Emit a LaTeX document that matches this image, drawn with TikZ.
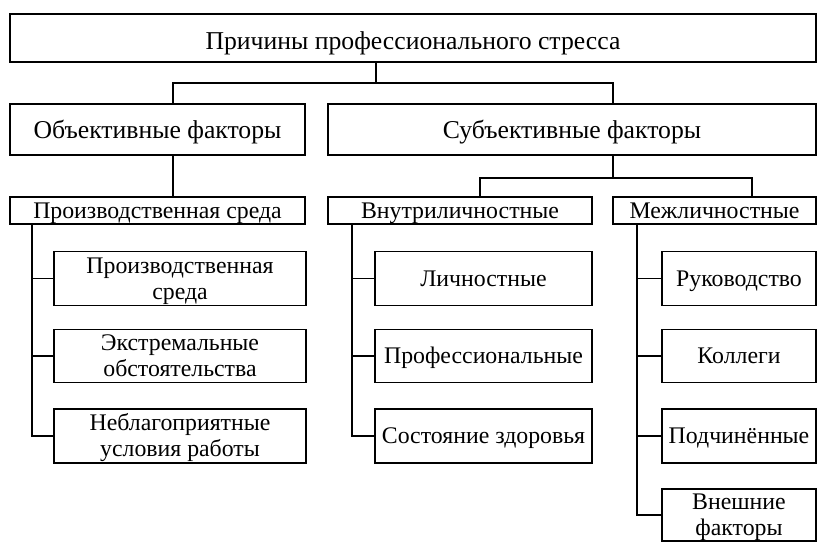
\documentclass[tikz,border=0pt]{standalone}
\usepackage{fontspec}
\setmainfont{Liberation Serif}
\newcommand\capline[1]{\rule{0pt}{0.66em}\smash{#1}}
\newcommand\lastline[1]{\smash{#1}}
\begin{document}
\begin{tikzpicture}[x=1pt,y=-1pt,
  box/.style={draw,line width=1.4pt,inner sep=0pt,align=center,font=\fontsize{23.8}{26}\selectfont},
  big/.style={font=\fontsize{25.7}{28}\selectfont},
  one/.style={text height=15.7pt,text depth=0pt},
  bigone/.style={text height=17pt,text depth=0pt},
  conn/.style={line width=1.4pt}]
\useasboundingbox (0,0) rectangle (827,552);
\node[box,big,text height=23pt,text depth=0pt,minimum width=806pt,minimum height=48pt] (top) at (413,38) {Причины профессионального стресса};
\node[box,big,bigone,minimum width=295pt,minimum height=51pt] (obj) at (157.5,129.5) {Объективные факторы};
\node[box,big,bigone,minimum width=488pt,minimum height=51pt] (subj) at (572,129.5) {Субъективные факторы};
\node[box,one,minimum width=295pt,minimum height=27pt] (prod) at (157.5,210.5) {Производственная среда};
\node[box,one,minimum width=264pt,minimum height=27pt] (intra) at (460,210.5) {Внутриличностные};
\node[box,one,minimum width=203pt,minimum height=27pt] (inter) at (714.5,210.5) {Межличностные};
\node[box,minimum width=252pt,minimum height=54pt] (p1) at (180,278.5) {\capline{Производственная}\\\lastline{среда}};
\node[box,minimum width=252pt,minimum height=53pt] (p2) at (180,356) {\capline{Экстремальные}\\\lastline{обстоятельства}};
\node[box,minimum width=252pt,minimum height=54pt] (p3) at (180,436) {\capline{Неблагоприятные}\\\lastline{условия работы}};
\node[box,one,minimum width=217pt,minimum height=54pt] (i1) at (483.5,278.5) {Личностные};
\node[box,one,minimum width=217pt,minimum height=53pt] (i2) at (483.5,356) {Профессиональные};
\node[box,one,minimum width=217pt,minimum height=54pt] (i3) at (483.5,436) {Состояние здоровья};
\node[box,one,minimum width=154pt,minimum height=54pt] (m1) at (739,278.5) {Руководство};
\node[box,one,minimum width=154pt,minimum height=53pt] (m2) at (739,356) {Коллеги};
\node[box,one,minimum width=154pt,minimum height=54pt] (m3) at (739,436) {Подчинённые};
\node[box,minimum width=154pt,minimum height=52pt] (m4) at (739,515) {\capline{Внешние}\\\lastline{факторы}};
\coordinate (a1) at (376,83);
\coordinate (xo) at (173,0);
\coordinate (xs) at (613,0);
\coordinate (a2) at (613,178);
\coordinate (xi) at (480,178);
\coordinate (xm) at (752,178);
\coordinate (xp) at (32,0);
\coordinate (xn) at (352,0);
\coordinate (xq) at (637,0);
\draw[conn] (top.south -| a1) -- (a1);
\draw[conn] (obj.north -| xo) |- (a1) -| (subj.north -| xs);
\draw[conn] (obj.south -| xo) -- (prod.north -| xo);
\draw[conn] (subj.south -| a2) -- (a2);
\draw[conn] (intra.north -| xi) |- (a2) -| (inter.north -| xm);
\draw[conn] (prod.south -| xp) |- (p3.west);
\draw[conn] (p1.west) -- (p1.west -| xp);
\draw[conn] (p2.west) -- (p2.west -| xp);
\draw[conn] (intra.south -| xn) |- (i3.west);
\draw[conn] (i1.west) -- (i1.west -| xn);
\draw[conn] (i2.west) -- (i2.west -| xn);
\draw[conn] (inter.south -| xq) |- (m4.west);
\draw[conn] (m1.west) -- (m1.west -| xq);
\draw[conn] (m2.west) -- (m2.west -| xq);
\draw[conn] (m3.west) -- (m3.west -| xq);
\end{tikzpicture}
\end{document}
